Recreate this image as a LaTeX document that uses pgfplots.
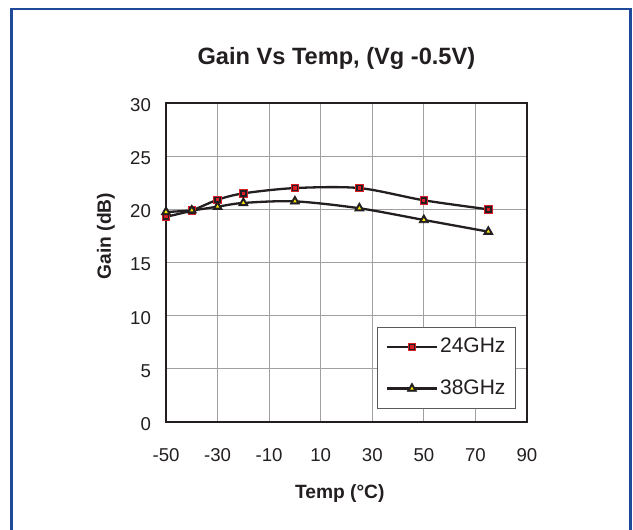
\documentclass[border=0pt]{standalone}
\usepackage{pgfplots}
\pgfplotsset{compat=1.18}
\usepackage{fontspec}
\setmainfont{Liberation Sans}
\definecolor{framecol}{RGB}{31,73,153}
\definecolor{ink}{RGB}{35,31,32}
\definecolor{gridcol}{RGB}{160,160,160}
\definecolor{mkred}{RGB}{220,30,40}
\definecolor{mkyel}{RGB}{250,230,0}
\definecolor{legframe}{RGB}{90,90,90}
\pgfdeclareplotmark{redsq}{%
  \begin{pgfscope}
  \pgfsetlinewidth{0.45pt}%
  \pgfpathrectangle{\pgfpoint{-\pgfplotmarksize}{-\pgfplotmarksize}}{\pgfpoint{2\pgfplotmarksize}{2\pgfplotmarksize}}%
  \pgfsetfillcolor{ink}\pgfsetstrokecolor{mkred}\pgfusepath{fill,stroke}%
  \pgfpathrectangle{\pgfpoint{-0.42\pgfplotmarksize}{-0.42\pgfplotmarksize}}{\pgfpoint{0.84\pgfplotmarksize}{0.84\pgfplotmarksize}}%
  \pgfsetfillcolor{mkred}\pgfusepath{fill}%
  \end{pgfscope}}
\pgfdeclareplotmark{yeltri}{%
  \begin{pgfscope}
  \pgfsetlinewidth{0.4pt}%
  \pgfpathmoveto{\pgfpointpolar{90}{\pgfplotmarksize}}%
  \pgfpathlineto{\pgfpointpolar{210}{\pgfplotmarksize}}%
  \pgfpathlineto{\pgfpointpolar{330}{\pgfplotmarksize}}%
  \pgfpathclose
  \pgfsetfillcolor{ink}\pgfsetstrokecolor{ink}\pgfusepath{fill,stroke}%
  \pgfpathmoveto{\pgfpointpolar{90}{0.38\pgfplotmarksize}}%
  \pgfpathlineto{\pgfpointpolar{210}{0.38\pgfplotmarksize}}%
  \pgfpathlineto{\pgfpointpolar{330}{0.38\pgfplotmarksize}}%
  \pgfpathclose
  \pgfsetfillcolor{mkyel}\pgfusepath{fill}%
  \end{pgfscope}}
\begin{document}
\begin{tikzpicture}
\useasboundingbox[fill=white] (0pt,0pt) rectangle (316.5pt,265pt);
\draw[framecol, line width=1.4pt] (5.65pt,-5pt) -- (5.65pt,260.5pt) -- (315.15pt,260.5pt) -- (315.15pt,-5pt);
\begin{axis}[
  at={(83pt,54pt)}, anchor=south west,
  scale only axis, width=180.5pt, height=159.5pt,
  xmin=-50, xmax=90, ymin=0, ymax=30,
  xtick={-50,-30,...,90}, ytick={0,5,...,30},
  major tick length=0pt,
  grid=major,
  major grid style={gridcol, line width=0.45pt},
  axis line style={ink, line width=1pt},
  clip=false,
  /pgf/number format/assume math mode=true,
  tick label style={font=\fontsize{9.3}{11}\selectfont, text=ink},
  xticklabel style={yshift=-9.5pt},
  yticklabel style={xshift=-4pt, yshift=-1pt},
  title={Gain Vs Temp, (Vg -0.5V)},
  title style={at={(0.472,1)}, anchor=base, yshift=13.15pt, font=\bfseries\fontsize{11.8}{14}\selectfont, text=ink},
  xlabel={Temp (°C)},
  xlabel style={at={(0.4814,0)}, anchor=base, yshift=-38.15pt, font=\bfseries\fontsize{9.6}{12}\selectfont, text=ink},
  ylabel={Gain (dB)},
  ylabel style={at={(-0.1524,0.583)}, anchor=base, font=\bfseries\fontsize{9.6}{12}\selectfont, text=ink},
  legend style={at={(0.9695,0.0408)}, anchor=south east, draw=legframe, line width=0.5pt, fill=white,
    font=\fontsize{10.5}{12}\selectfont, text=ink, row sep=8pt, inner xsep=4pt, inner ysep=3.5pt,
    nodes={inner xsep=1pt}},
  legend cell align=left,
  legend image code/.code={%
    \draw[mark repeat=2,mark phase=2,#1] plot coordinates {(0pt,0pt) (12.5pt,0pt) (25pt,0pt)};},
]
\addplot[ink, line width=1.15pt, smooth, tension=0.5, mark=redsq, mark size=1.9pt]
  coordinates {(-50,19.3) (-40,19.9) (-30,20.9) (-20,21.5) (0,22.0) (25,22.0) (50,20.85) (75,20.0)};
\addlegendentry{24GHz}
\addplot[ink, line width=1.15pt, smooth, tension=0.5, mark=yeltri, mark size=2.7pt]
  coordinates {(-50,19.75) (-40,19.9) (-30,20.25) (-20,20.6) (0,20.75) (25,20.1) (50,19.0) (75,17.9)};
\addlegendentry{38GHz}
\end{axis}
\end{tikzpicture}
\end{document}
